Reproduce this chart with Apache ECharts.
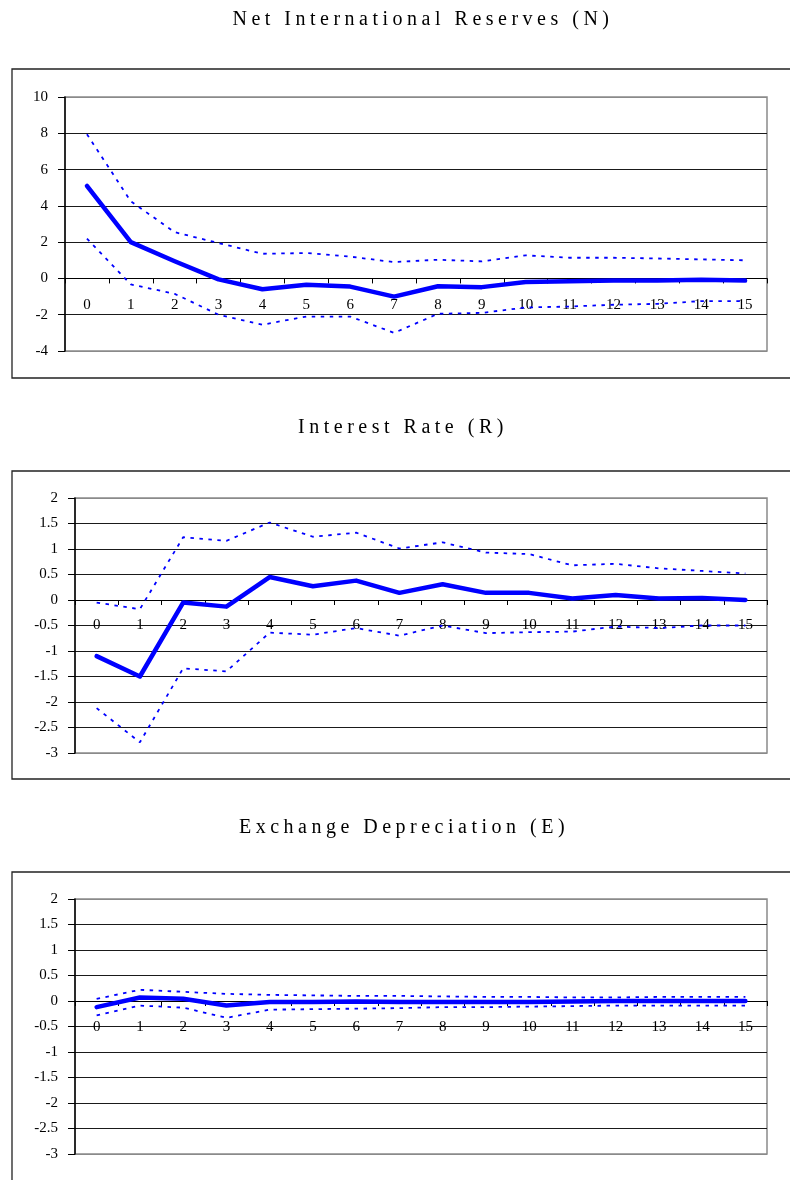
<!DOCTYPE html>
<html>
<head>
<meta charset="utf-8">
<script src="https://cdn.jsdelivr.net/npm/echarts@6/dist/echarts.min.js"></script>
<style>
  body { margin: 0; background: #fff; }
  #wrap { position: relative; width: 790px; height: 1180px; overflow: hidden; }
  #main { position: absolute; left: 0; top: 0; width: 790px; height: 1180px; }
  .ttl {
    position: absolute; white-space: nowrap; transform: translateX(-50%);
    font-family: "Liberation Serif", "Times New Roman", serif;
    font-size: 20px; line-height: 20px; letter-spacing: 4.5px; color: #000;
  }
</style>
</head>
<body>
<div id="wrap">
  <div id="main"></div>
  <div class="ttl" style="left:423px; top:8px">Net International Reserves (N)</div>
  <div class="ttl" style="left:403px; top:416px">Interest Rate (R)</div>
  <div class="ttl" style="left:404px; top:816px">Exchange Depreciation (E)</div>
</div>
<script>
// horizon 0..15
var steps = ['0','1','2','3','4','5','6','7','8','9','10','11','12','13','14','15'];

// Net International Reserves (N)
var nirMain  = [5.1, 2.0, 0.95, -0.05, -0.6, -0.35, -0.45, -1.0, -0.43, -0.48, -0.2, -0.15, -0.12, -0.12, -0.07, -0.12];
var nirUpper = [7.95, 4.25, 2.55, 1.95, 1.36, 1.4, 1.2, 0.9, 1.03, 0.94, 1.27, 1.14, 1.14, 1.1, 1.05, 1.0];
var nirLower = [2.2, -0.33, -0.85, -2.0, -2.55, -2.1, -2.1, -3.0, -1.95, -1.9, -1.6, -1.55, -1.45, -1.4, -1.25, -1.25];

// Interest Rate (R)
var rateMain  = [-1.1, -1.5, -0.05, -0.13, 0.45, 0.27, 0.38, 0.14, 0.31, 0.14, 0.14, 0.03, 0.1, 0.03, 0.04, 0.0];
var rateUpper = [-0.05, -0.18, 1.23, 1.16, 1.52, 1.24, 1.32, 1.01, 1.13, 0.93, 0.9, 0.68, 0.71, 0.62, 0.57, 0.52];
var rateLower = [-2.12, -2.79, -1.34, -1.4, -0.64, -0.68, -0.55, -0.7, -0.5, -0.65, -0.63, -0.62, -0.52, -0.55, -0.5, -0.5];

// Exchange Depreciation (E)
var excMain  = [-0.12, 0.07, 0.045, -0.09, -0.02, -0.02, -0.01, -0.02, -0.02, -0.02, -0.02, -0.01, 0.0, 0.0, 0.0, 0.0];
var excUpper = [0.04, 0.22, 0.18, 0.14, 0.12, 0.11, 0.1, 0.1, 0.09, 0.08, 0.08, 0.07, 0.07, 0.08, 0.08, 0.08];
var excLower = [-0.28, -0.09, -0.13, -0.33, -0.17, -0.16, -0.15, -0.14, -0.12, -0.12, -0.11, -0.1, -0.09, -0.09, -0.09, -0.09];

// y scales [min, max, interval]
var nirScale  = [-4, 10, 2];
var rateScale = [-3, 2, 0.5];
var excScale  = [-3, 2, 0.5];

var font = '"Liberation Serif", "Times New Roman", serif';
var panels = [
  { scale: nirScale,  main: nirMain,  up: nirUpper,  lo: nirLower,  grid: { left: 65, top: 97,  width: 702, height: 254 }, margin: 19 },
  { scale: rateScale, main: rateMain, up: rateUpper, lo: rateLower, grid: { left: 75, top: 498, width: 692, height: 255 }, margin: 18 },
  { scale: excScale,  main: excMain,  up: excUpper,  lo: excLower,  grid: { left: 75, top: 899, width: 692, height: 255 }, margin: 19 }
];

var chartDom = document.getElementById('main');
var myChart = echarts.init(chartDom, null, { renderer: 'canvas' });

var grid = [], xAxis = [], yAxis = [], series = [];
panels.forEach(function (p, i) {
  grid.push(Object.assign({ show: true, borderColor: '#8a8a8a', borderWidth: 1.5, backgroundColor: '#fff' }, p.grid));

  // gray lines at the ends, dark lines between
  var n = Math.round((p.scale[1] - p.scale[0]) / p.scale[2]) + 1;
  var lineColors = [];
  for (var k = 0; k < n; k++) lineColors.push(k === 0 || k === n - 1 ? '#8a8a8a' : '#1a1a1a');

  // move the category axis (line, ticks, labels) up to y = 0
  var zeroOffset = -(0 - p.scale[0]) / (p.scale[1] - p.scale[0]) * p.grid.height;

  xAxis.push({
    type: 'category', gridIndex: i, data: steps, boundaryGap: true,
    position: 'bottom', offset: zeroOffset,
    axisLine: { onZero: false, lineStyle: { color: '#000', width: 1.2 } },
    axisTick: { show: true, inside: false, length: 5, lineStyle: { color: '#000', width: 1 } },
    axisLabel: { color: '#000', fontFamily: font, fontSize: 15, margin: p.margin, interval: 0 },
    splitLine: { show: false }
  });
  yAxis.push({
    type: 'value', gridIndex: i, min: p.scale[0], max: p.scale[1], interval: p.scale[2],
    axisLine: { show: true, onZero: false, lineStyle: { color: '#000', width: 1.5 } },
    axisTick: { show: true, inside: false, length: 7, lineStyle: { color: '#000', width: 1 } },
    axisLabel: { color: '#000', fontFamily: font, fontSize: 15, margin: 17 },
    splitLine: { show: true, lineStyle: { color: lineColors, width: 1 } }
  });

  var dotted = { color: '#0000ff', width: 1.8, type: [3.5, 5.5] };
  series.push({
    type: 'line', xAxisIndex: i, yAxisIndex: i, data: p.up, symbol: 'none',
    lineStyle: dotted, z: 3, silent: true
  });
  series.push({
    type: 'line', xAxisIndex: i, yAxisIndex: i, data: p.lo, symbol: 'none',
    lineStyle: dotted, z: 3, silent: true
  });
  series.push({
    type: 'line', xAxisIndex: i, yAxisIndex: i, data: p.main, symbol: 'none',
    lineStyle: { color: '#0000ff', width: 4.5, cap: 'round', join: 'round' }, z: 4, silent: true
  });
});

var option = {
  animation: false,
  backgroundColor: '#fff',
  grid: grid,
  xAxis: xAxis,
  yAxis: yAxis,
  series: series,
  // outer chart-area frames
  graphic: [
    { type: 'rect', shape: { x: 12, y: 69,  width: 800, height: 309 }, style: { fill: 'none', stroke: '#222', lineWidth: 1.3 }, silent: true },
    { type: 'rect', shape: { x: 12, y: 471, width: 800, height: 308 }, style: { fill: 'none', stroke: '#222', lineWidth: 1.3 }, silent: true },
    { type: 'rect', shape: { x: 12, y: 872, width: 800, height: 330 }, style: { fill: 'none', stroke: '#222', lineWidth: 1.3 }, silent: true }
  ]
};

option && myChart.setOption(option);
</script>
</body>
</html>
